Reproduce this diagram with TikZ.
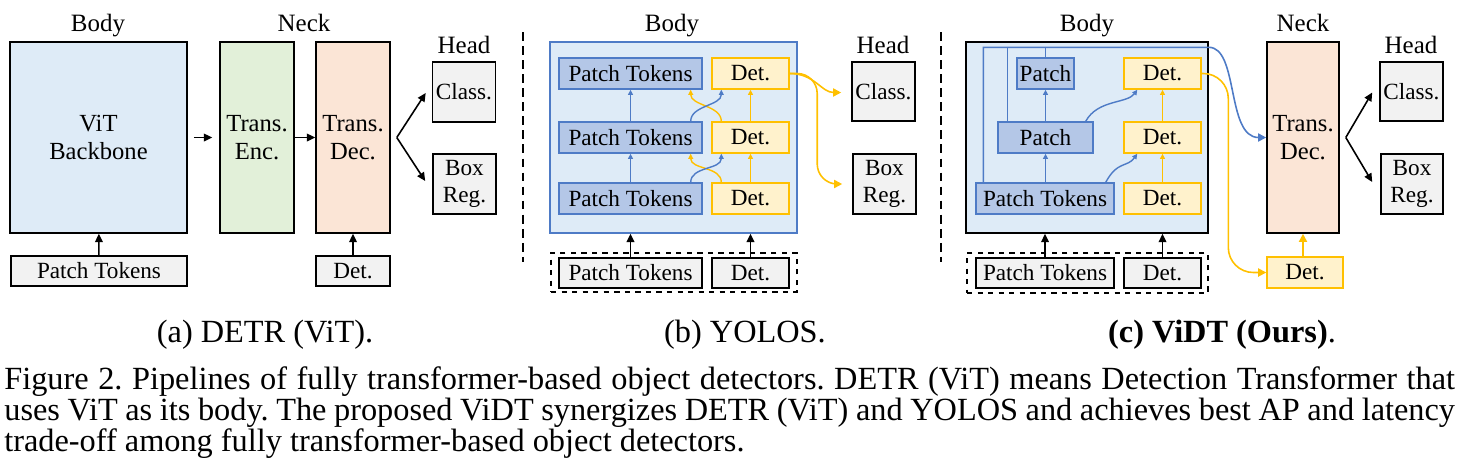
\documentclass[tikz,border=0pt]{standalone}
\usepackage{fontspec}
\setmainfont{Liberation Serif}
\usepackage{xcolor}
\usetikzlibrary{arrows.meta,calc}

\definecolor{bodyblue}{HTML}{DEEBF7}
\definecolor{encgreen}{HTML}{E2F0D9}
\definecolor{decpeach}{HTML}{FBE5D6}
\definecolor{boxgray}{HTML}{F2F2F2}
\definecolor{patchblue}{HTML}{B4C7E7}
\definecolor{patchline}{HTML}{4E7BC6}
\definecolor{detfill}{HTML}{FFF2CC}
\definecolor{detline}{HTML}{FFC000}
\frenchspacing

\begin{document}
\begin{tikzpicture}[x=0.02cm,y=-0.02cm,
	every node/.style={inner sep=0pt, align=center},
	sz/.style 2 args={minimum width=#1*0.02cm, minimum height=#2*0.02cm},
	big/.style={draw=black, line width=0.9pt, font=\fontsize{14}{16.2}\selectfont},
	small/.style={draw=black, line width=0.9pt, fill=boxgray, font=\fontsize{13.2}{15}\selectfont},
	patch/.style={draw=patchline, line width=0.8pt, fill=patchblue, font=\fontsize{13.2}{15}\selectfont},
	det/.style={draw=detline, line width=0.8pt, fill=detfill, font=\fontsize{13.2}{15}\selectfont},
	head/.style={anchor=base, font=\fontsize{14.2}{16}\selectfont},
	captext/.style={anchor=base, font=\fontsize{18.4}{18.4}\selectfont},
	arr/.style={-{Triangle[length=4.8pt,width=4.4pt]}, line width=0.9pt},
	barr/.style={-{Triangle[length=3pt,width=2.8pt]}, draw=patchline, line width=0.8pt},
	yarr/.style={-{Triangle[length=3pt,width=2.8pt]}, draw=detline, line width=0.8pt},
	ybig/.style={-{Triangle[length=4.6pt,width=4.6pt]}, draw=detline, line width=0.9pt},
	bbig/.style={-{Triangle[length=4.6pt,width=4.6pt]}, draw=patchline, line width=0.9pt},
	sepline/.style={dash pattern=on 5pt off 3pt, line width=0.7pt}]
\useasboundingbox (0,0) rectangle (1464,471);

%% (a) DETR (ViT)
\node[head] (bodya) at (98,31) {Body};\node[head] (necka) at (304,31) {Neck};\node[head] (heada) at (464,53) {Head};
\node[big, fill=bodyblue, sz={177}{191}] (vit) at (98.5,137.5) {ViT\\Backbone};
\node[small, sz={176}{30}] (pta) at (99,271) {Patch Tokens};
\node[big, fill=encgreen, sz={74}{191}] (enc) at (257,137.5) {Trans.\\Enc.};
\node[big, fill=decpeach, sz={74}{191}] (deca) at (353,137.5) {Trans.\\Dec.};
\node[small, sz={74}{30}] (deta) at (353,271) {Det.};
\node[small, sz={63}{60}] (clsa) at (464,92) {Class.};
\node[small, sz={63}{60}] (rega) at (464.5,184) {Box\\Reg.};
\draw[arr] (pta) -- (vit);
\draw[arr] (deta) -- (deca);
\draw[arr] ($(vit.east)+(6,0)$) -- ($(enc.west)+(-7,0)$);
\draw[arr] (enc) -- (deca);
\draw[arr] ($(deca.east)+(6,0)$) -- ($(clsa.west)+(-6,1)$);
\draw[arr] ($(deca.east)+(6,0)$) -- ($(rega.west)+(-7,-3)$);

%% separators
\draw[sepline] (523,32) -- (523,262);
\draw[sepline] (941,32) -- (941,262);

%% (b) YOLOS
\node[head] (bodyhb) at (672,31) {Body};\node[head] (headb) at (883,53) {Head};
\node[draw=patchline, line width=0.8pt, fill=bodyblue, sz={247}{191}] (bodyb) at (673.5,137.5) {};
\foreach \i/\y in {1/73.5,2/137.5,3/198.5}{
	\node[patch, sz={143}{31}] (p\i) at (630.5,\y) {Patch Tokens};
	\node[det, sz={77}{31}] (d\i) at (750.5,\y) {Det.};
	}
%% token blocks feed the block above, det and patch swap
\foreach \i/\j in {3/2,2/1}{
	\draw[barr] (p\i) -- (p\j);
	\draw[yarr] (d\i) -- (d\j);
	\draw[yarr] ($(d\i.north west)+(10,0)$) .. controls +(0,-16) and +(0,16) .. ($(p\j.south east)+(-12,0)$);
	\draw[barr] ($(p\i.north east)+(-12,0)$) .. controls +(0,-16) and +(0,16) .. ($(d\j.south west)+(10,0)$);
	}
\node[small, sz={63}{59}] (clsb) at (883.5,91.5) {Class.};
\node[small, sz={63}{60}] (regb) at (884.5,184) {Box\\Reg.};
\draw[ybig] (d1.east) .. controls +(25,0) and +(-20,0) .. ($(clsb.west)+(-10,1)$);
\draw[ybig, rounded corners=0.4cm] (d1.east) -| ($(regb.west)+(-35,0)$) -- ($(regb.west)+(-10,0)$);
\node[draw, dashed, line width=0.8pt, sz={246}{39}] (inb) at (674,272.5) {};
\node[small, sz={143}{30}] (ptb) at (630.5,273) {Patch Tokens};
\node[small, sz={77}{30}] (dtb) at (750.5,273) {Det.};
\draw[arr] (ptb.north) -- (ptb.north |- bodyb.south);
\draw[arr] (dtb.north) -- (dtb.north |- bodyb.south);

%% (c) ViDT (Ours)
\node[head] (bodyhc) at (1087,31) {Body};\node[head] (neckc) at (1303,31) {Neck};\node[head] (headc) at (1411,53) {Head};
\node[draw=black, line width=0.9pt, fill=bodyblue, sz={242}{191}] (bodyc) at (1087,137.5) {};
\node[patch, sz={57}{31}] (q1) at (1045.5,73.5) {Patch};
\node[patch, sz={95}{31}] (q2) at (1045.5,137.5) {Patch};
\node[patch, sz={138}{31}] (q3) at (1045,198.5) {Patch Tokens};
\foreach \i/\y in {1/73.5,2/137.5,3/198.5}{
	\node[det, sz={77}{31}] (e\i) at (1162.5,\y) {Det.};
	}
\draw[barr] (q3.north -| q2) -- (q2);
\draw[barr] (q2) -- (q1);
\draw[yarr] (e3) -- (e2);
\draw[yarr] (e2) -- (e1);
\draw[barr] ($(q2.north east)+(-8,0)$) .. controls +(12,-22) and +(-10,14) .. ($(e1.south west)+(14,0)$);
\draw[barr] ($(q3.north east)+(-9,0)$) .. controls +(12,-22) and +(-10,14) .. ($(e2.south west)+(14,0)$);
\node[big, fill=decpeach, sz={72}{191}] (decc) at (1303,137.5) {Trans.\\Dec.};
\node[det, sz={76}{31}] (detc) at (1305,272.5) {Det.};
\node[small, sz={63}{59}] (clsc) at (1411.5,91.5) {Class.};
\node[small, sz={62}{60}] (regc) at (1412,184) {Box\\Reg.};
%% multi-scale patch outputs go to the neck
\coordinate (bus) at ($(q3.north west)+(8,-135)$);
\draw[patchline, line width=0.8pt] ($(q2.north west)+(10,0)$) |- (bus);
\draw[patchline, line width=0.8pt] (q1.north) |- (bus);
\draw[bbig] ($(q3.north west)+(8,0)$) -- (bus) -- (bus -| bodyc.east) .. controls +(30,0) and +(-40,0) .. (decc.west);
\draw[ybig, rounded corners=0.5cm] (e1.east) -| ($(detc.west)+(-38,0)$) -- (detc.west);
\draw[ybig] (detc.north -| decc) -- (decc.south);
\draw[arr] ($(decc.east)+(6,0)$) -- ($(clsc.west)+(-7,1)$);
\draw[arr] ($(decc.east)+(6,0)$) -- ($(regc.west)+(-8,-2)$);
\node[draw, dashed, line width=0.8pt, sz={241}{40}] (inc) at (1087.5,273) {};
\node[small, sz={138}{30}] (ptc) at (1045,273) {Patch Tokens};
\node[small, sz={77}{30}] (dtc) at (1162.5,273) {Det.};
\draw[arr] (ptc.north) -- (ptc.north |- bodyc.south);
\draw[arr] (dtc.north) -- (dtc.north |- bodyc.south);

%% captions
\node[captext] (capa) at (265,342) {(a) DETR (ViT).};
\node[captext] (capb) at (745,342) {(b) YOLOS.};
\node[captext] (capc) at (1222,342) {\textbf{(c) ViDT (Ours)}.};
\node[captext, anchor=base west] (fig1) at (4,389) {\makebox[29.02cm][s]{Figure 2. Pipelines of fully transformer-based object detectors. DETR (ViT) means Detection Transformer that}};
\node[captext, anchor=base west] (fig2) at (4,420) {\makebox[29.02cm][s]{uses ViT as its body. The proposed ViDT synergizes DETR (ViT) and YOLOS and achieves best AP and latency}};
\node[captext, anchor=base west] (fig3) at (4,451) {trade-off among fully transformer-based object detectors.};
\end{tikzpicture}
\end{document}
